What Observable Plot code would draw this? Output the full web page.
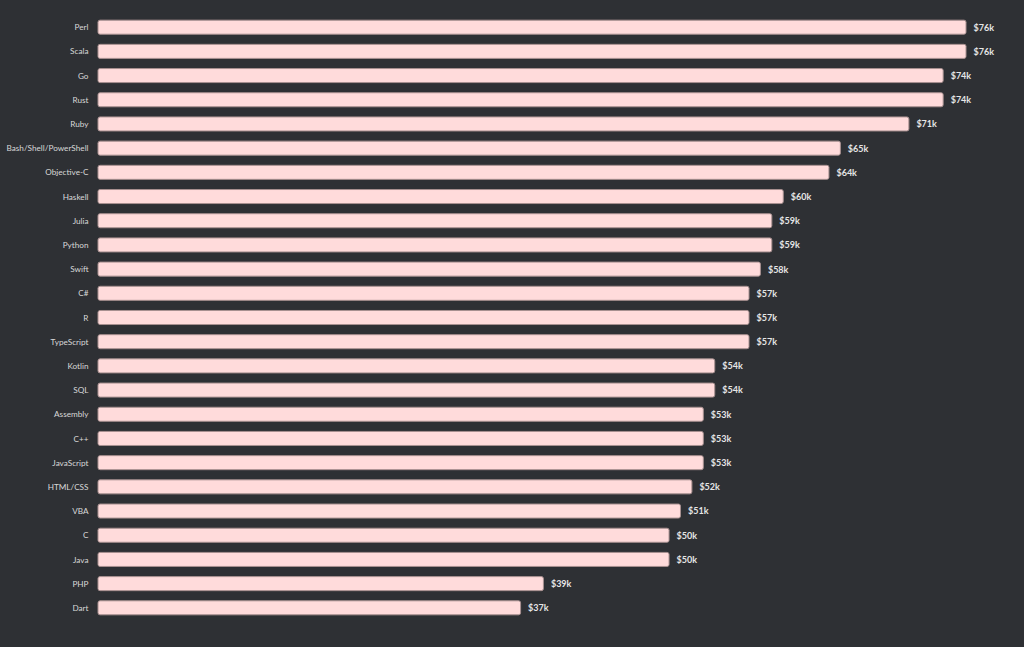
<!DOCTYPE html>
<html>
<head>
<meta charset="utf-8">
<script src="https://cdn.jsdelivr.net/npm/d3@7"></script>
<script src="https://cdn.jsdelivr.net/npm/@observablehq/plot@0.6"></script>
<style>
  html, body { margin: 0; padding: 0; background: #2e3034; }
  #chart svg { display: block; }
</style>
</head>
<body>
<div id="chart"></div>
<script>
const languages = ["Perl","Scala","Go","Rust","Ruby","Bash/Shell/PowerShell","Objective-C","Haskell","Julia","Python","Swift","C#","R","TypeScript","Kotlin","SQL","Assembly","C++","JavaScript","HTML/CSS","VBA","C","Java","PHP","Dart"];
const salaries = [76,76,74,74,71,65,64,60,59,59,58,57,57,57,54,54,53,53,53,52,51,50,50,39,37];

const data = languages.map((l, i) => ({language: l, salary: salaries[i]}));

const chart = Plot.plot({
  width: 1024,
  height: 647,
  marginLeft: 98,
  marginRight: 58,
  marginTop: 10,
  marginBottom: 22,
  style: {background: "#2e3034", color: "#d8d8d8", fontFamily: "Lato, 'Open Sans', sans-serif", fontSize: "8.2px"},
  x: {domain: [0, 76], axis: null},
  y: {domain: languages, padding: 0.42, round: false, label: null, tickSize: 0, tickPadding: 10},
  marks: [
    Plot.barX(data, {x: "salary", y: "language", fill: "#ffdbdb", stroke: "#a89090", strokeWidth: 1, rx: 2}),
    Plot.text(data, {x: "salary", y: "language", text: d => "$" + d.salary + "k", textAnchor: "start", dx: 7, fill: "#e6e6e6", fontWeight: "bold", fontSize: 9}),
    Plot.axisY({tickSize: 0, tickPadding: 10, label: null, fill: "#d8d8d8", fontSize: 8.2})
  ]
});
document.getElementById("chart").appendChild(chart);
</script>
</body>
</html>
